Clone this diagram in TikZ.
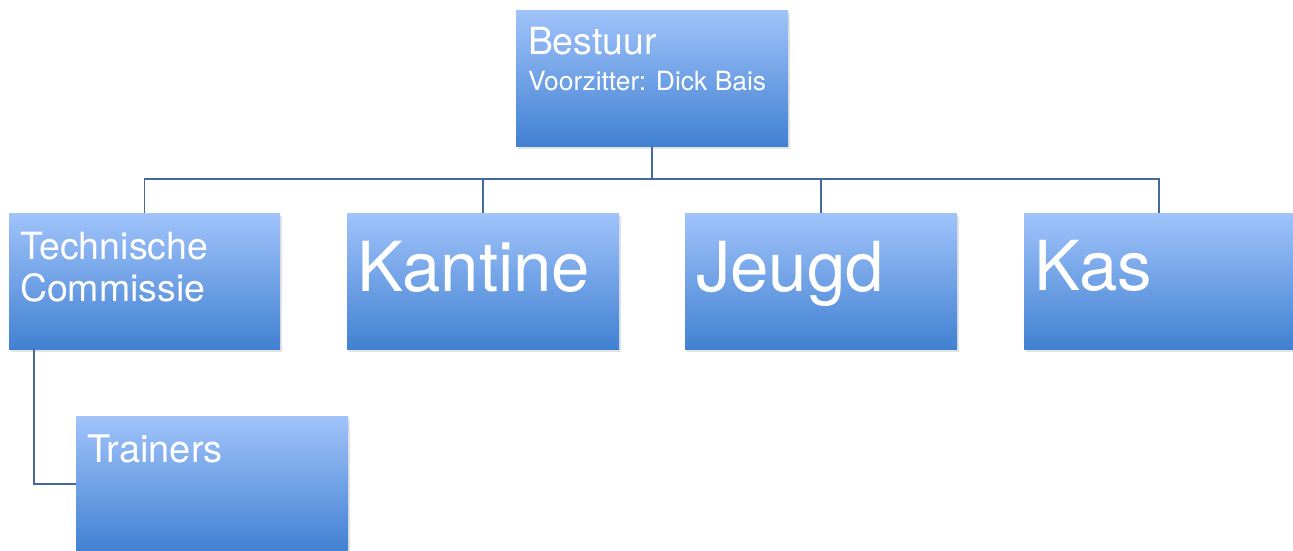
\documentclass[tikz,border=0pt]{standalone}
\usepackage{fontspec}
\setmainfont{TeX Gyre Heros}
\usetikzlibrary{calc,shadows}

\definecolor{boxtop}{HTML}{A0C3FA}
\definecolor{boxbottom}{HTML}{4181D2}
\definecolor{linkblue}{HTML}{45699E}

\begin{document}
\begin{tikzpicture}[x=1pt,y=-1pt,
	orgbox/.style={rectangle,minimum width=272pt,minimum height=136pt,inner sep=0pt,
		top color=boxtop,bottom color=boxbottom,draw=none,
		drop shadow={opacity=0.22,shadow xshift=2pt,shadow yshift=-3pt}},
	orgtext/.style={anchor=base west,inner sep=0pt,text=white,align=left},
	link/.style={draw=linkblue,line width=1.8pt}]

		\useasboundingbox (0,0) rectangle (1293,550);

		% Boxes
		\node[orgbox] (bestuur) at (652,78) {};
		\node[orgbox,minimum width=271pt] (tc) at (144.5,281) {};
		\node[orgbox] (kantine) at (483,281) {};
		\node[orgbox] (jeugd) at (821,281) {};
		\node[orgbox,minimum width=270pt] (kas) at (1159,281) {};
		\node[orgbox] (trainers) at (212,484) {};

		% Texts
		\node[orgtext,font=\fontsize{37.4}{38}\selectfont] (bestuur-t) at ($(bestuur.north west)+(12,45)$) {Bestuur};
		\node[orgtext,font=\fontsize{26.4}{28}\selectfont] (bestuur-s) at ($(bestuur.north west)+(12,81)$) {Voorzitter: Dick Bais};
		\node[orgtext,font=\fontsize{37.5}{42}\selectfont] (tc-t) at ($(tc.north west)+(11,89)$) {Technische\\Commissie};
		\node[orgtext,font=\fontsize{69}{70}\selectfont] (kantine-t) at ($(kantine.north west)+(10,79)$) {Kantine};
		\node[orgtext,font=\fontsize{69}{70}\selectfont] (jeugd-t) at ($(jeugd.north west)+(11,79)$) {Jeugd};
		\node[orgtext,font=\fontsize{69}{70}\selectfont] (kas-t) at ($(kas.north west)+(10,78)$) {Kas};
		\node[orgtext,font=\fontsize{38}{42}\selectfont] (trainers-t) at ($(trainers.north west)+(11,47)$) {Trainers};

		% Links
		\coordinate (bus) at (0,179);
		\draw[link] (bestuur.south) -- (bestuur.south |- bus) -| (tc.north);
		\draw[link] (bestuur.south |- bus) -| (kantine.north);
		\draw[link] (bestuur.south |- bus) -| (jeugd.north);
		\draw[link] (bestuur.south |- bus) -| (kas.north);
		\draw[link] ([xshift=25pt]tc.south west) |- (trainers.west);

	\end{tikzpicture}
\end{document}
